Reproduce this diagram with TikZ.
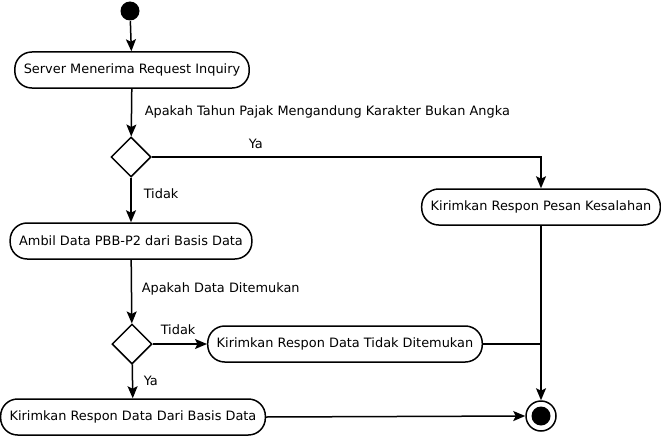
\documentclass[tikz,border=0pt]{standalone}
\usepackage{fontspec}
\setmainfont{DejaVu Sans}
\usetikzlibrary{arrows.meta,shapes.geometric,positioning}

\tikzset{
    activity/.style={draw, rounded corners=17pt, minimum height=36pt, inner xsep=9pt,
                     font=\fontsize{12.9}{15}\selectfont},
    decision/.style={draw, diamond, minimum size=40pt, inner sep=0pt},
    guard/.style={anchor=west, inner sep=0pt, font=\fontsize{12.9}{15}\selectfont}
}

\begin{document}
\begin{tikzpicture}[x=1pt, y=-1pt, line width=1.5pt,
                    >={Stealth[length=12pt,width=10pt,inset=2.5pt]}]
    \useasboundingbox (0,0) rectangle (661,436);   % Fix page size

    % Start and end points
    \node[circle, fill, minimum size=19pt, inner sep=0pt] (start) at (130,11) {};
    \node[circle, draw, minimum size=30pt, inner sep=0pt] (stop) at (541,416) {};
    \fill (stop.center) circle (9.5pt);

    % Activities
    \node[activity] (terima) at (132,70)  {Server Menerima Request Inquiry};
    \node[activity] (salah)  at (541,207) {Kirimkan Respon Pesan Kesalahan};
    \node[activity] (ambil)  at (131,241) {Ambil Data PBB-P2 dari Basis Data};
    \node[activity] (tidak)  at (345,344) {Kirimkan Respon Data Tidak Ditemukan};
    \node[activity] (kirim)  at (133,417) {Kirimkan Respon Data Dari Basis Data};

    % Decisions
    \node[decision] (cekpajak) at (131,157) {};
    \node[decision] (cekdata)  at (132,344) {};

    % Guards
    \node[guard] (qpajak)  at (144,112) {Apakah Tahun Pajak Mengandung Karakter Bukan Angka};
    \node[guard] (yapajak) at (248,144) {Ya};
    \node[guard] (tdpajak) at (143,194) {Tidak};
    \node[guard] (qdata)   at (141,289) {Apakah Data Ditemukan};
    \node[guard] (tddata)  at (160,330) {Tidak};
    \node[guard] (yadata)  at (143,381) {Ya};

    % Flows
    \draw[->] (start) -- (terima);
    \draw[->] (terima) -- (cekpajak);
    \draw[->] (cekpajak.east) -| (salah.north);
    \draw[->] (cekpajak) -- (ambil);
    \draw[->] (ambil) -- (cekdata);
    \draw[->] (cekdata) -- (tidak);
    \draw[->] (cekdata) -- (kirim);
    \draw[->] (salah) -- (stop);
    \draw (tidak.east) -- (tidak.east -| stop);
    \draw[->] (kirim.east) -- (stop.west);
\end{tikzpicture}
\end{document}
